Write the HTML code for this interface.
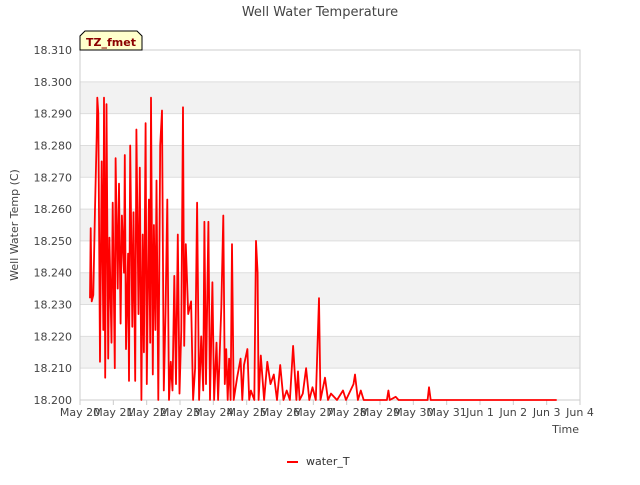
<!DOCTYPE html>
<html><head><meta charset="utf-8"><style>
body{margin:0;background:#fff;font-family:"Liberation Sans","DejaVu Sans",sans-serif;}
svg text{font-family:"DejaVu Sans","Liberation Sans",sans-serif;}
</style></head><body>
<svg id="chart" width="640" height="480" xmlns="http://www.w3.org/2000/svg">
<rect width="640" height="480" fill="#fff"/>
<g id="bands"></g>
<g id="grid"></g>
<rect x="80" y="50" width="500" height="350" fill="none" stroke="#ccc"/>
<g id="yticks" font-size="11" fill="#444"></g>
<g id="xticks" font-size="11" fill="#444"></g>
<path id="line" fill="none" stroke="#f00" stroke-width="1.8" stroke-linejoin="round"/>
<text x="320" y="16" text-anchor="middle" font-size="13" fill="#444">Well Water Temperature</text>
<text transform="translate(18,225) rotate(-90)" text-anchor="middle" font-size="11" fill="#444">Well Water Temp (C)</text>
<text x="579" y="433" text-anchor="end" font-size="11" fill="#444">Time</text>
<g>
<path d="M80,50 L80,36 L85,31 L137,31 L142,36 L142,50 Z" fill="#ffffcc" stroke="#000"/>
<text x="111" y="46" text-anchor="middle" font-size="11" font-weight="bold" fill="#8b0000">TZ_fmet</text>
</g>
<g>
<line x1="287" y1="462" x2="298" y2="462" stroke="#f00" stroke-width="2"/>
<text x="306" y="465" font-size="11" fill="#333">water_T</text>
</g>
</svg>
<script>
const yTickValues=[18.200,18.210,18.220,18.230,18.240,18.250,18.260,18.270,18.280,18.290,18.300,18.310];
const xTickLabels=["May 20","May 21","May 22","May 23","May 24","May 25","May 26","May 27","May 28","May 29","May 30","May 31","Jun 1","Jun 2","Jun 3","Jun 4"];
const times=[0.30,0.32,0.35,0.40,0.45,0.5,0.52,0.55,0.6,0.65,0.7,0.72,0.757,0.795,0.845,0.882,0.945,0.982,1.044,1.069,1.132,1.169,1.219,1.257,1.319,1.344,1.381,1.444,1.469,1.506,1.569,1.606,1.656,1.693,1.756,1.793,1.843,1.881,1.918,1.968,2.005,2.068,2.105,2.13,2.185,2.218,2.262,2.295,2.35,2.405,2.46,2.513,2.565,2.618,2.67,2.723,2.775,2.828,2.88,2.933,2.985,3.038,3.09,3.126,3.175,3.247,3.332,3.393,3.453,3.514,3.574,3.635,3.695,3.731,3.78,3.852,3.9,3.973,4.022,4.094,4.143,4.24,4.3,4.343,4.387,4.43,4.473,4.517,4.56,4.611,4.714,4.817,4.869,4.92,5.023,5.075,5.126,5.229,5.28,5.328,5.358,5.425,5.522,5.619,5.716,5.813,5.91,6.007,6.104,6.2,6.297,6.394,6.491,6.54,6.588,6.685,6.782,6.879,6.976,7.073,7.17,7.215,7.35,7.44,7.53,7.71,7.89,7.98,8.205,8.25,8.337,8.424,8.511,9.208,9.252,9.295,9.47,9.557,10.08,10.427,10.47,10.52,14.3];
const values=[18.232,18.254,18.231,18.233,18.26,18.283,18.295,18.29,18.212,18.275,18.222,18.295,18.207,18.293,18.213,18.251,18.218,18.262,18.21,18.276,18.235,18.268,18.224,18.258,18.24,18.277,18.216,18.246,18.206,18.28,18.223,18.259,18.206,18.285,18.227,18.273,18.2,18.252,18.215,18.287,18.205,18.263,18.218,18.295,18.208,18.255,18.222,18.269,18.2,18.28,18.291,18.203,18.227,18.263,18.2,18.212,18.203,18.239,18.205,18.252,18.202,18.222,18.292,18.217,18.249,18.227,18.231,18.2,18.21,18.262,18.2,18.22,18.203,18.256,18.205,18.256,18.2,18.237,18.2,18.218,18.2,18.229,18.258,18.205,18.216,18.2,18.213,18.2,18.249,18.2,18.207,18.213,18.2,18.211,18.216,18.2,18.203,18.2,18.25,18.24,18.2,18.214,18.2,18.212,18.205,18.208,18.2,18.211,18.2,18.203,18.2,18.217,18.2,18.209,18.2,18.202,18.21,18.2,18.204,18.2,18.232,18.2,18.207,18.2,18.202,18.2,18.203,18.2,18.205,18.208,18.2,18.203,18.2,18.2,18.203,18.2,18.201,18.2,18.2,18.2,18.204,18.2,18.2];
const NS="http://www.w3.org/2000/svg";
const X0=80,X1=580,Y0=400,Y1=50,ymin=18.2,ymax=18.31,dmax=15;
function xs(d){return X0+(d/dmax)*(X1-X0);}
function ys(v){return Y0-(v-ymin)/(ymax-ymin)*(Y0-Y1);}
const bands=document.getElementById('bands'),grid=document.getElementById('grid'),yt=document.getElementById('yticks'),xt=document.getElementById('xticks');
for(let i=0;i<yTickValues.length;i++){
  const v=yTickValues[i],y=ys(v);
  if(i<yTickValues.length-1 && i%2===1){
    const r=document.createElementNS(NS,'rect');
    r.setAttribute('x',X0);r.setAttribute('y',ys(yTickValues[i+1]));r.setAttribute('width',X1-X0);r.setAttribute('height',y-ys(yTickValues[i+1]));r.setAttribute('fill','#f2f2f2');
    
    
    bands.appendChild(r);
  }
  const l=document.createElementNS(NS,'line');
  l.setAttribute('x1',X0);l.setAttribute('x2',X1);l.setAttribute('y1',y);l.setAttribute('y2',y);l.setAttribute('stroke','#ddd');
  
  
  grid.appendChild(l);
  const t=document.createElementNS(NS,'text');
  t.setAttribute('x',72);t.setAttribute('y',y+4);t.setAttribute('text-anchor','end');t.textContent=v.toFixed(3);
  
  
  yt.appendChild(t);
}
for(let i=0;i<xTickLabels.length;i++){
  const x=xs(i);
  const l=document.createElementNS(NS,'line');
  l.setAttribute('x1',x);l.setAttribute('x2',x);l.setAttribute('y1',400);l.setAttribute('y2',405);l.setAttribute('stroke','#ccc');
  
  
  xt.appendChild(l);
  const t=document.createElementNS(NS,'text');
  t.setAttribute('x',x);t.setAttribute('y',416);t.setAttribute('text-anchor','middle');t.textContent=xTickLabels[i];
  
  
  xt.appendChild(t);
}
let d='';
for(let i=0;i<times.length;i++){d+=(i?'L':'M')+xs(times[i]).toFixed(1)+','+ys(values[i]).toFixed(1);}
document.getElementById('line').setAttribute('d',d);
</script>
</body></html>
